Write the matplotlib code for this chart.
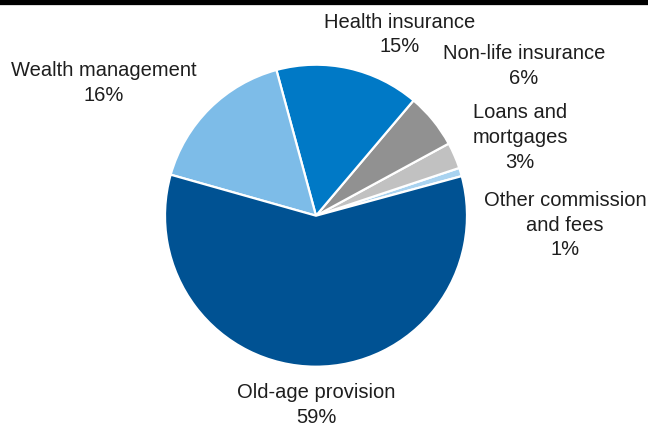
import numpy as np
import matplotlib
matplotlib.use("Agg")
import matplotlib.pyplot as plt

# Revenue split by business line (share of total, %)
categories = ["Other commission\nand fees", "Loans and\nmortgages", "Non-life insurance",
              "Health insurance", "Wealth management", "Old-age provision"]
shares = [0.9, 2.8, 5.9, 15.4, 16.4, 58.6]
colors = ["#a9d3f0", "#c1c1c1", "#919191", "#0079c6", "#7dbce8", "#005293"]

# label anchor points in pie units (centre at 0,0; radius 1)
label_pos = [(1.649, -0.062), (1.351, 0.518), (1.377, 0.99),
             (0.556, 1.20), (-1.407, 0.879), (0.0, -1.254)]

fig = plt.figure(figsize=(6.48, 4.23), dpi=100)
W, H = 648, 423
cx, cy, r = 316, 215.7, 151
ax = fig.add_axes([(cx - r) / W, (H - cy - r) / H, 2 * r / W, 2 * r / H])

ax.pie(shares, colors=colors, startangle=15.2, counterclock=True, radius=1,
       wedgeprops=dict(edgecolor="white", linewidth=1.6))
# pie() resets the limits, so pin them afterwards
ax.set_xlim(-1, 1)
ax.set_ylim(-1, 1)
ax.set_aspect("equal")
ax.axis("off")

for name, val, (x, y) in zip(categories, shares, label_pos):
    ax.text(x, y, f"{name}\n{val:.0f}%", ha="center", va="center",
            fontsize=14.5, family="Liberation Sans", color="#1e1e1e",
            linespacing=1.38, clip_on=False)

# heavy rule across the top
fig.add_artist(plt.Line2D([0, 1], [1 - 2.5 / H, 1 - 2.5 / H], color="black",
                          linewidth=3.8, transform=fig.transFigure))

fig.savefig("out.png", dpi=100)
